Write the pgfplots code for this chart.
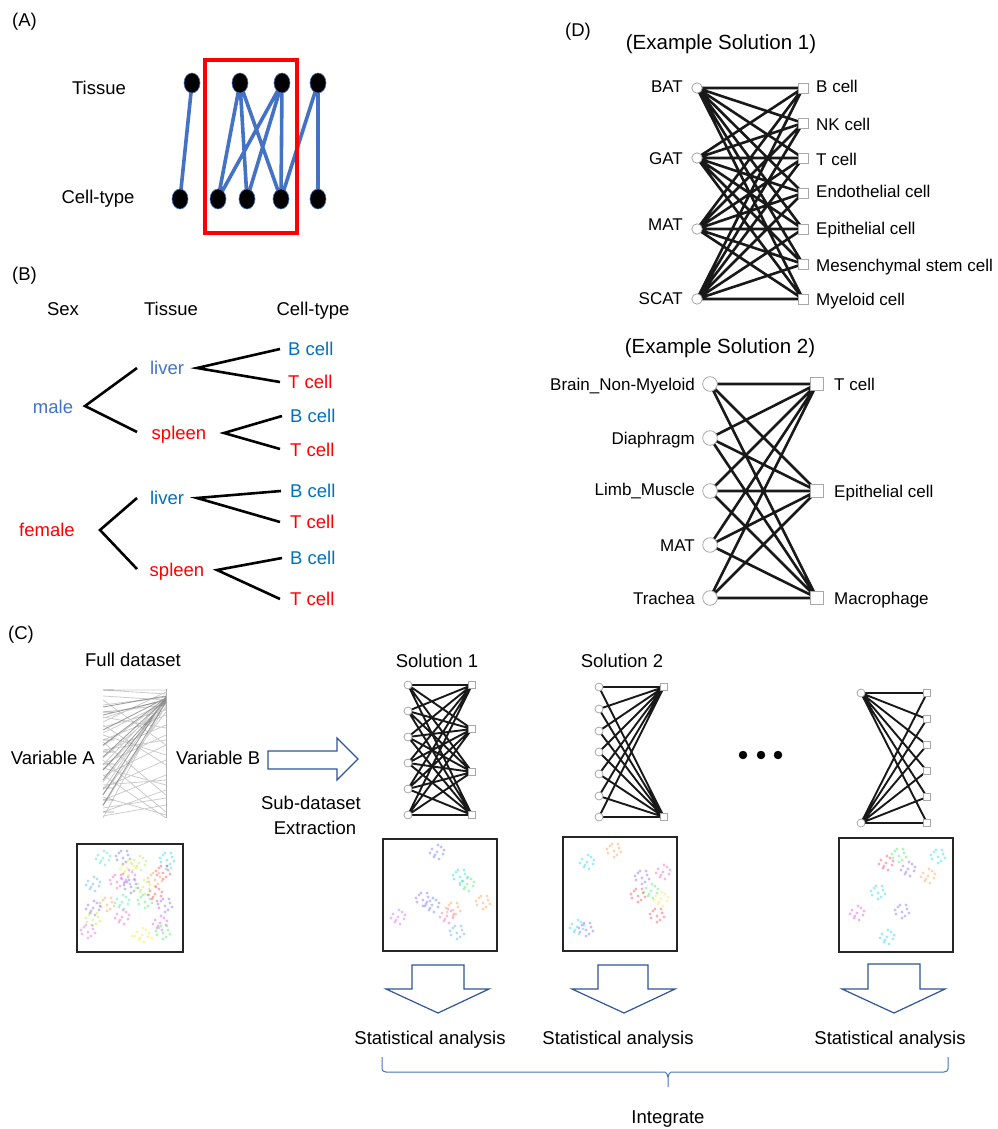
\documentclass[border=0pt]{standalone}
\usepackage{pgfplots}
\pgfplotsset{compat=1.18}
\usepackage{fontspec}
\setmainfont{Liberation Sans}
\definecolor{ablue}{HTML}{4472C4}
\definecolor{bblue}{HTML}{0070C0}
\definecolor{arr}{HTML}{2F5597}
\definecolor{ngray}{HTML}{A8A8A8}
\definecolor{sAqua}{RGB}{40,230,170}
\definecolor{sBlue}{RGB}{70,100,240}
\definecolor{sYG}{RGB}{170,230,60}
\definecolor{sCyan}{RGB}{0,210,240}
\definecolor{sYel}{RGB}{245,225,30}
\definecolor{sRed}{RGB}{245,40,70}
\definecolor{sLB}{RGB}{60,160,235}
\definecolor{sPink}{RGB}{245,70,170}
\definecolor{sOrch}{RGB}{210,80,230}
\definecolor{sGreen}{RGB}{50,225,80}
\definecolor{sOr}{RGB}{250,140,50}
\definecolor{sViol}{RGB}{120,80,245}
\definecolor{sMag}{RGB}{225,50,230}
\tikzset{
  t/.style={inner sep=0pt, font=\fontsize{18.5}{22}\selectfont, anchor=mid, yshift=-4pt},
  td/.style={inner sep=0pt, font=\fontsize{17}{20}\selectfont, yshift=-4pt},
}
\pgfplotsset{
  sc/.style={only marks, mark=*, mark size=1.6, mark options={draw opacity=0, fill opacity=0.38}},
  edge/.style={black!90, line width=2.6, line join=round, line cap=round},
  cedge/.style={black!90, line width=1.9, line join=round, line cap=round},
  circ/.style={only marks, mark=*, mark options={fill=white, draw=ngray, line width=0.8}},
  sqr/.style={only marks, mark=square*, mark options={fill=white, draw=ngray, line width=0.8}},
  box/.style={black!85, line width=1.6, line join=miter},
  darr/.style={draw=arr, fill=white, line width=1.2, line join=miter},
}
\begin{document}
\begin{tikzpicture}
\begin{axis}[scale only axis, width=997pt, height=1129pt,
  xmin=0, xmax=997, ymin=0, ymax=1129, y dir=reverse,
  hide axis, clip=false]
\addplot[draw=none, forget plot] coordinates {(0,0)(997,1129)};

% ================= (A) =================
\addplot[ablue, line width=3.6, line cap=round, unbounded coords=jump] coordinates {
(192,83)(180,199) (nan,nan)
(240,83)(218,199) (nan,nan)
(240,83)(247,199) (nan,nan)
(240,83)(281,199) (nan,nan)
(282,83)(218,199) (nan,nan)
(282,83)(247,199) (nan,nan)
(282,83)(281,199) (nan,nan)
(318,83)(281,199) (nan,nan)
(318,83)(318,199)};
\addplot[only marks, mark=*, mark size=10, mark options={xscale=0.8, fill=black, draw=ablue, line width=0.6}] coordinates {
(192,83)(240,83)(282,83)(318,83)(180,199)(218,199)(247,199)(281,199)(318,199)};
\addplot[red, line width=3.4, line join=miter] coordinates {(205,60)(297,60)(297,233)(205,233)(205,60)(297,60)};
\node[t, anchor=mid west] at (axis cs:12,20) {(A)};
\node[t] at (axis cs:99,88) {Tissue};
\node[t] at (axis cs:98,197) {Cell-type};

% ================= (B) =================
\addplot[black, line width=2.6, line join=miter] coordinates {(137,368)(85,406)(137,432)};
\addplot[black, line width=2.6, line join=miter] coordinates {(280,349)(197,368)(280,382)};
\addplot[black, line width=2.6, line join=miter] coordinates {(282,416)(224,433)(280,449)};
\addplot[black, line width=2.6, line join=miter] coordinates {(137,498)(100,530)(137,569)};
\addplot[black, line width=2.6, line join=miter] coordinates {(281,491)(197,498)(280,522)};
\addplot[black, line width=2.6, line join=miter] coordinates {(282,558)(217,570)(280,599)};
\node[t, anchor=mid west] at (axis cs:12,274) {(B)};
\node[t] at (axis cs:63,309) {Sex};
\node[t] at (axis cs:171,309) {Tissue};
\node[t] at (axis cs:313,309) {Cell-type};
\node[t, text=ablue] at (axis cs:53,407) {male};
\node[t, text=red] at (axis cs:47,530) {female};
\node[t, text=ablue] at (axis cs:167,368) {liver};
\node[t, text=red] at (axis cs:179,433) {spleen};
\node[t, text=bblue] at (axis cs:167,498) {liver};
\node[t, text=red] at (axis cs:177,570) {spleen};
\node[t, anchor=mid west, text=bblue] at (axis cs:288,349) {B cell};
\node[t, anchor=mid west, text=red] at (axis cs:288,382) {T cell};
\node[t, anchor=mid west, text=bblue] at (axis cs:290,416) {B cell};
\node[t, anchor=mid west, text=red] at (axis cs:290,450) {T cell};
\node[t, anchor=mid west, text=bblue] at (axis cs:290,491) {B cell};
\node[t, anchor=mid west, text=red] at (axis cs:290,522) {T cell};
\node[t, anchor=mid west, text=bblue] at (axis cs:290,558) {B cell};
\node[t, anchor=mid west, text=red] at (axis cs:290,599) {T cell};

% ================= (D) =================
\node[t, anchor=mid west] at (axis cs:565,30) {(D)};
\node[t, font=\fontsize{20.5}{24}\selectfont] at (axis cs:721,43) {(Example Solution 1)};
\node[t, font=\fontsize{20.5}{24}\selectfont] at (axis cs:720,347) {(Example Solution 2)};
\addplot[edge] coordinates {
(697,88)(803,88)(697,88)(803,123)(697,88)(803,158)(697,88)(803,193)(697,88)(803,229)(697,88)(803,264)(697,88)(803,299)
(697,158)(803,88)(697,158)(803,123)(697,158)(803,158)(697,158)(803,193)(697,158)(803,229)(697,158)(803,264)(697,158)(803,299)
(697,229)(803,88)(697,229)(803,123)(697,229)(803,158)(697,229)(803,193)(697,229)(803,229)(697,229)(803,264)(697,229)(803,299)
(697,299)(803,88)(697,299)(803,123)(697,299)(803,158)(697,299)(803,193)(697,299)(803,229)(697,299)(803,264)(697,299)(803,299)};
\addplot[circ, mark size=5.2] coordinates {(697,88)(697,158)(697,229)(697,299)};
\addplot[sqr, mark size=5] coordinates {(803,88)(803,123)(803,158)(803,193)(803,229)(803,264)(803,299)};
\node[td, anchor=mid east] at (axis cs:683,86) {BAT};
\node[td, anchor=mid east] at (axis cs:683,158) {GAT};
\node[td, anchor=mid east] at (axis cs:683,224) {MAT};
\node[td, anchor=mid east] at (axis cs:683,298) {SCAT};
\node[td, anchor=mid west] at (axis cs:816,86) {B cell};
\node[td, anchor=mid west] at (axis cs:816,124) {NK cell};
\node[td, anchor=mid west] at (axis cs:816,159) {T cell};
\node[td, anchor=mid west] at (axis cs:816,191) {Endothelial cell};
\node[td, anchor=mid west] at (axis cs:816,228) {Epithelial cell};
\node[td, anchor=mid west] at (axis cs:816,265) {Mesenchymal stem cell};
\node[td, anchor=mid west] at (axis cs:816,299) {Myeloid cell};

\addplot[edge] coordinates {
(710,384)(817,384)(710,384)(817,491)(710,384)(817,598)
(710,438)(817,384)(710,438)(817,491)(710,438)(817,598)
(710,491)(817,384)(710,491)(817,491)(710,491)(817,598)
(710,545)(817,384)(710,545)(817,491)(710,545)(817,598)
(710,598)(817,384)(710,598)(817,491)(710,598)(817,598)};
\addplot[circ, mark size=7.3] coordinates {(710,384)(710,438)(710,491)(710,545)(710,598)};
\addplot[sqr, mark size=6.5] coordinates {(817,384)(817,491)(817,598)};
\node[td, anchor=mid east] at (axis cs:695,384) {Brain\_Non-Myeloid};
\node[td, anchor=mid east] at (axis cs:695,438) {Diaphragm};
\node[td, anchor=mid east] at (axis cs:695,489) {Limb\_Muscle};
\node[td, anchor=mid east] at (axis cs:695,545) {MAT};
\node[td, anchor=mid east] at (axis cs:695,598) {Trachea};
\node[td, anchor=mid west] at (axis cs:834,384) {T cell};
\node[td, anchor=mid west] at (axis cs:834,491) {Epithelial cell};
\node[td, anchor=mid west] at (axis cs:834,598) {Macrophage};

% ================= (C) =================
\node[t, anchor=mid west] at (axis cs:8,633) {(C)};
\node[t] at (axis cs:133,660) {Full dataset};
\node[t, anchor=mid east] at (axis cs:95,758) {Variable A};
\node[t, anchor=mid west] at (axis cs:176,758) {Variable B};
\node[t] at (axis cs:311,803) {Sub-dataset};
\node[t] at (axis cs:315,828) {Extraction};
\node[t] at (axis cs:437,661) {Solution 1};
\node[t] at (axis cs:622,661) {Solution 2};

% full dataset network
\addplot[gray!60, line width=0.8] coordinates {(166,689)(166,818)};
\addplot[gray, opacity=0.4, line width=0.8, unbounded coords=jump] coordinates {
(103,690)(166,694) (nan,nan) (103,696)(166,700) (nan,nan) (103,705)(166,697) (nan,nan)
(103,712)(166,705) (nan,nan) (103,718)(166,699) (nan,nan) (103,727)(166,710) (nan,nan)
(103,733)(166,702) (nan,nan) (103,740)(166,715) (nan,nan) (103,746)(166,700) (nan,nan)
(103,752)(166,725) (nan,nan) (103,758)(166,704) (nan,nan) (103,764)(166,735) (nan,nan)
(103,770)(166,708) (nan,nan) (103,776)(166,745) (nan,nan) (103,782)(166,703) (nan,nan)
(103,788)(166,760) (nan,nan) (103,794)(166,712) (nan,nan) (103,800)(166,775) (nan,nan)
(103,806)(166,706) (nan,nan) (103,812)(166,790) (nan,nan) (103,818)(166,700) (nan,nan)
(103,816)(166,805) (nan,nan) (103,700)(166,745) (nan,nan) (103,725)(166,765) (nan,nan)
(103,742)(166,795) (nan,nan) (103,760)(166,812) (nan,nan) (103,775)(166,818) (nan,nan)
(103,690)(166,690) (nan,nan) (103,717)(166,728) (nan,nan) (103,735)(166,755) (nan,nan)
(103,750)(166,740) (nan,nan) (103,768)(166,785) (nan,nan) (103,785)(166,780) (nan,nan)
(103,797)(166,815) (nan,nan) (103,808)(166,798) (nan,nan) (103,722)(166,692) (nan,nan)
(103,765)(166,698) (nan,nan) (103,790)(166,696)};
\addplot[gray!80!black, opacity=0.6, line width=0.9, unbounded coords=jump] coordinates {
(103,707)(166,696) (nan,nan) (103,745)(166,698) (nan,nan) (103,770)(166,701) (nan,nan)
(103,795)(166,697) (nan,nan) (103,757)(166,699) (nan,nan) (103,730)(166,698) (nan,nan)
(103,715)(166,700) (nan,nan) (103,780)(166,699) (nan,nan) (103,805)(166,702) (nan,nan)
(103,690)(114,690) (nan,nan) (103,712)(114,712) (nan,nan) (103,740)(114,740) (nan,nan)
(103,752)(114,752) (nan,nan) (103,764)(114,764) (nan,nan) (103,788)(114,788) (nan,nan)
(103,800)(114,800) (nan,nan) (103,812)(114,812)};

% right arrow
\addplot[darr] coordinates {(268,751)(337,751)(337,738)(358,759)(337,780)(337,769)(268,769)(268,751)(337,751)};

% solution networks
\addplot[cedge] coordinates {
(408,685)(472,685)(408,685)(472,729)(408,685)(472,772)(408,685)(472,815)
(408,711)(472,685)(408,711)(472,729)(408,711)(472,772)(408,711)(472,815)
(408,737)(472,685)(408,737)(472,729)(408,737)(472,772)(408,737)(472,815)
(408,763)(472,685)(408,763)(472,729)(408,763)(472,772)(408,763)(472,815)
(408,789)(472,685)(408,789)(472,729)(408,789)(472,772)(408,789)(472,815)
(408,815)(472,685)(408,815)(472,729)(408,815)(472,772)(408,815)(472,815)};
\addplot[circ, mark size=4] coordinates {(408,685)(408,711)(408,737)(408,763)(408,789)(408,815)};
\addplot[sqr, mark size=3.8] coordinates {(472,685)(472,729)(472,772)(472,815)};

\addplot[cedge] coordinates {
(664,687)(599,687)(664,687)(599,709)(664,687)(599,731)(664,687)(599,752)(664,687)(599,774)(664,687)(599,796)(664,687)(599,817)
(664,817)(599,796)(664,817)(599,774)(664,817)(599,752)(664,817)(599,731)(664,817)(599,709)(664,817)(599,687)};
\addplot[circ, mark size=4] coordinates {(599,687)(599,709)(599,731)(599,752)(599,774)(599,796)(599,817)};
\addplot[sqr, mark size=3.8] coordinates {(664,687)(664,817)};

\addplot[cedge] coordinates {
(861,693)(927,693)(861,693)(927,719)(861,693)(927,745)(861,693)(927,771)(861,693)(927,797)(861,693)(927,823)
(861,823)(927,797)(861,823)(927,771)(861,823)(927,745)(861,823)(927,719)(861,823)(927,693)};
\addplot[circ, mark size=4] coordinates {(861,693)(861,823)};
\addplot[sqr, mark size=3.8] coordinates {(927,693)(927,719)(927,745)(927,771)(927,797)(927,823)};

% ellipsis
\addplot[only marks, mark=*, mark size=4, black] coordinates {(743,755)(761,755)(778,755)};

% scatter boxes
\addplot[box] coordinates {(77,844)(183,844)(183,952)(77,952)(77,844)(183,844)};
\addplot[box] coordinates {(383,839)(497,839)(497,951)(383,951)(383,839)(497,839)};
\addplot[box] coordinates {(563,837)(677,837)(677,951)(563,951)(563,837)(677,837)};
\addplot[box] coordinates {(839,838)(953,838)(953,952)(839,952)(839,838)(953,838)};

% full dataset clusters
\addplot[sc, sAqua] coordinates {(103,858)(98,855)(107,853)(109,860)(100,863)(105,865)(96,859)(104,851)(110,856)(101,861)};
\addplot[sc, sBlue] coordinates {(123,858)(119,853)(128,855)(126,862)(117,860)(123,864)(121,851)(130,859)(116,856)(127,851)};
\addplot[sc, sYG] coordinates {(139,863)(134,860)(143,858)(145,865)(136,868)(141,870)(132,864)(140,856)(146,861)(137,866)};
\addplot[sc, sCyan] coordinates {(167,860)(163,855)(172,857)(170,864)(161,862)(167,866)(165,853)(174,861)(160,858)(171,853)(166,869)(171,868)};
\addplot[sc, sYel] coordinates {(127,868)(122,865)(131,863)(133,870)(124,873)(129,875)(120,869)(128,861)(134,866)(125,871)};
\addplot[sc, sRed] coordinates {(163,873)(159,868)(168,870)(166,877)(157,875)(163,879)(161,866)(170,874)(156,871)(167,866)};
\addplot[sc, sLB] coordinates {(93,884)(88,881)(97,879)(99,886)(90,889)(95,891)(86,885)(94,877)(100,882)(91,887)};
\addplot[sc, sPink] coordinates {(117,882)(113,877)(122,879)(120,886)(111,884)(117,888)(115,875)(124,883)(110,880)(121,875)};
\addplot[sc, sOrch] coordinates {(128,877)(123,874)(132,872)(134,879)(125,882)(130,884)(121,878)(129,870)(135,875)(126,880)};
\addplot[sc, sBlue] coordinates {(131,887)(127,882)(136,884)(134,891)(125,889)(131,893)(129,880)(138,888)(124,885)(135,880)};
\addplot[sc, sYG] coordinates {(143,887)(138,884)(147,882)(149,889)(140,892)(145,894)(136,888)(144,880)(150,885)(141,890)};
\addplot[sc, sOr] coordinates {(155,880)(151,875)(160,877)(158,884)(149,882)(155,886)(153,873)(162,881)(148,878)(159,873)};
\addplot[sc, sRed] coordinates {(155,894)(150,891)(159,889)(161,896)(152,899)(157,901)(148,895)(156,887)(162,892)(153,897)};
\addplot[sc, sGreen] coordinates {(145,902)(141,897)(150,899)(148,906)(139,904)(145,908)(143,895)(152,903)(138,900)(149,895)};
\addplot[sc, sAqua] coordinates {(122,902)(117,899)(126,897)(128,904)(119,907)(124,909)(115,903)(123,895)(129,900)(120,905)};
\addplot[sc, sOr] coordinates {(107,905)(103,900)(112,902)(110,909)(101,907)(107,911)(105,898)(114,906)(100,903)(111,898)};
\addplot[sc, sViol] coordinates {(93,908)(88,905)(97,903)(99,910)(90,913)(95,915)(86,909)(94,901)(100,906)(91,911)};
\addplot[sc, sViol] coordinates {(165,906)(161,901)(170,903)(168,910)(159,908)(165,912)(163,899)(172,907)(158,904)(169,899)};
\addplot[sc, sPink] coordinates {(122,917)(117,914)(126,912)(128,919)(119,922)(124,924)(115,918)(123,910)(129,915)(120,920)};
\addplot[sc, sYG] coordinates {(93,920)(89,915)(98,917)(96,924)(87,922)(93,926)(91,913)(100,921)(86,918)(97,913)};
\addplot[sc, sMag] coordinates {(160,923)(155,920)(164,918)(166,925)(157,928)(162,930)(153,924)(161,916)(167,921)(158,926)};
\addplot[sc, sOrch] coordinates {(88,932)(84,927)(93,929)(91,936)(82,934)(88,938)(86,925)(95,933)(81,930)(92,925)};
\addplot[sc, sYel] coordinates {(142,935)(137,932)(146,930)(148,937)(139,940)(144,942)(135,936)(143,928)(149,933)(140,938)(132,936)(152,938)};
\addplot[sc, sGreen] coordinates {(163,933)(159,928)(168,930)(166,937)(157,935)(163,939)(161,926)(170,934)(156,931)(167,926)};

% solution 1 clusters
\addplot[sc, sBlue] coordinates {(437,852)(432,849)(441,847)(443,854)(434,857)(439,859)(430,853)(438,845)(444,850)(435,855)};
\addplot[sc, sCyan] coordinates {(460,877)(456,872)(465,874)(463,881)(454,879)(460,883)(458,870)(467,878)(453,875)(464,870)};
\addplot[sc, sGreen] coordinates {(467,884)(462,881)(471,879)(473,886)(464,889)(469,891)(460,885)(468,877)(474,882)(465,887)};
\addplot[sc, sViol] coordinates {(423,900)(419,895)(428,897)(426,904)(417,902)(423,906)(421,893)(430,901)(416,898)(427,893)};
\addplot[sc, sBlue] coordinates {(432,905)(427,902)(436,900)(438,907)(429,910)(434,912)(425,906)(433,898)(439,903)(430,908)};
\addplot[sc, sOr] coordinates {(453,910)(449,905)(458,907)(456,914)(447,912)(453,916)(451,903)(460,911)(446,908)(457,903)};
\addplot[sc, sPink] coordinates {(447,916)(442,913)(451,911)(453,918)(444,921)(449,923)(440,917)(448,909)(454,914)(445,919)};
\addplot[sc, sOr] coordinates {(483,903)(479,898)(488,900)(486,907)(477,905)(483,909)(481,896)(490,904)(476,901)(487,896)};
\addplot[sc, sOrch] coordinates {(398,917)(393,914)(402,912)(404,919)(395,922)(400,924)(391,918)(399,910)(405,915)(396,920)};
\addplot[sc, sLB] coordinates {(457,933)(453,928)(462,930)(460,937)(451,935)(457,939)(455,926)(464,934)(450,931)(461,926)};

% solution 2 clusters
\addplot[sc, sCyan] coordinates {(587,862)(582,859)(591,857)(593,864)(584,867)(589,869)(580,863)(588,855)(594,860)(585,865)};
\addplot[sc, sOr] coordinates {(614,851)(610,846)(619,848)(617,855)(608,853)(614,857)(612,844)(621,852)(607,849)(618,844)};
\addplot[sc, sPink] coordinates {(663,872)(658,869)(667,867)(669,874)(660,877)(665,879)(656,873)(664,865)(670,870)(661,875)};
\addplot[sc, sViol] coordinates {(642,878)(638,873)(647,875)(645,882)(636,880)(642,884)(640,871)(649,879)(635,876)(646,871)};
\addplot[sc, sGreen] coordinates {(651,891)(646,888)(655,886)(657,893)(648,896)(653,898)(644,892)(652,884)(658,889)(649,894)};
\addplot[sc, sRed] coordinates {(638,896)(634,891)(643,893)(641,900)(632,898)(638,902)(636,889)(645,897)(631,894)(642,889)};
\addplot[sc, sYel] coordinates {(661,899)(656,896)(665,894)(667,901)(658,904)(663,906)(654,900)(662,892)(668,897)(659,902)};
\addplot[sc, sRed] coordinates {(657,916)(653,911)(662,913)(660,920)(651,918)(657,922)(655,909)(664,917)(650,914)(661,909)};
\addplot[sc, sCyan] coordinates {(577,927)(572,924)(581,922)(583,929)(574,932)(579,934)(570,928)(578,920)(584,925)(575,930)};
\addplot[sc, sViol] coordinates {(586,930)(582,925)(591,927)(589,934)(580,932)(586,936)(584,923)(593,931)(579,928)(590,923)};

% solution 3 clusters
\addplot[sc, sRed] coordinates {(886,863)(881,860)(890,858)(892,865)(883,868)(888,870)(879,864)(887,856)(893,861)(884,866)};
\addplot[sc, sGreen] coordinates {(899,856)(895,851)(904,853)(902,860)(893,858)(899,862)(897,849)(906,857)(892,854)(903,849)};
\addplot[sc, sViol] coordinates {(908,869)(903,866)(912,864)(914,871)(905,874)(910,876)(901,870)(909,862)(915,867)(906,872)};
\addplot[sc, sCyan] coordinates {(938,857)(934,852)(943,854)(941,861)(932,859)(938,863)(936,850)(945,858)(931,855)(942,850)};
\addplot[sc, sOr] coordinates {(928,876)(923,873)(932,871)(934,878)(925,881)(930,883)(921,877)(929,869)(935,874)(926,879)};
\addplot[sc, sCyan] coordinates {(878,893)(874,888)(883,890)(881,897)(872,895)(878,899)(876,886)(885,894)(871,891)(882,886)};
\addplot[sc, sMag] coordinates {(857,913)(852,910)(861,908)(863,915)(854,918)(859,920)(850,914)(858,906)(864,911)(855,916)};
\addplot[sc, sViol] coordinates {(902,912)(898,907)(907,909)(905,916)(896,914)(902,918)(900,905)(909,913)(895,910)(906,905)};
\addplot[sc, sCyan] coordinates {(887,937)(882,934)(891,932)(893,939)(884,942)(889,944)(880,938)(888,930)(894,935)(885,940)};

% down arrows
\addplot[darr] coordinates {(412,965)(464,965)(464,989)(489,989)(438,1013)(386,989)(412,989)(412,965)(464,965)};
\addplot[darr] coordinates {(598,965)(648,965)(648,989)(675,989)(624,1013)(572,989)(598,989)(598,965)(648,965)};
\addplot[darr] coordinates {(868,964)(920,964)(920,989)(945,989)(894,1013)(842,989)(868,989)(868,964)(920,964)};
\node[t] at (axis cs:430,1038) {Statistical analysis};
\node[t] at (axis cs:618,1038) {Statistical analysis};
\node[t] at (axis cs:890,1038) {Statistical analysis};

% brace
\addplot[ablue, line width=1, line join=round] coordinates {
(382,1057)(382,1069)(383,1071)(386,1072)(665,1072)(667,1074)(668,1077)(668,1087)};
\addplot[ablue, line width=1, line join=round] coordinates {
(668,1077)(669,1074)(671,1072)(944,1072)(947,1071)(948,1069)(948,1057)};
\node[t] at (axis cs:668,1117) {Integrate};
\end{axis}
\end{tikzpicture}
\end{document}
